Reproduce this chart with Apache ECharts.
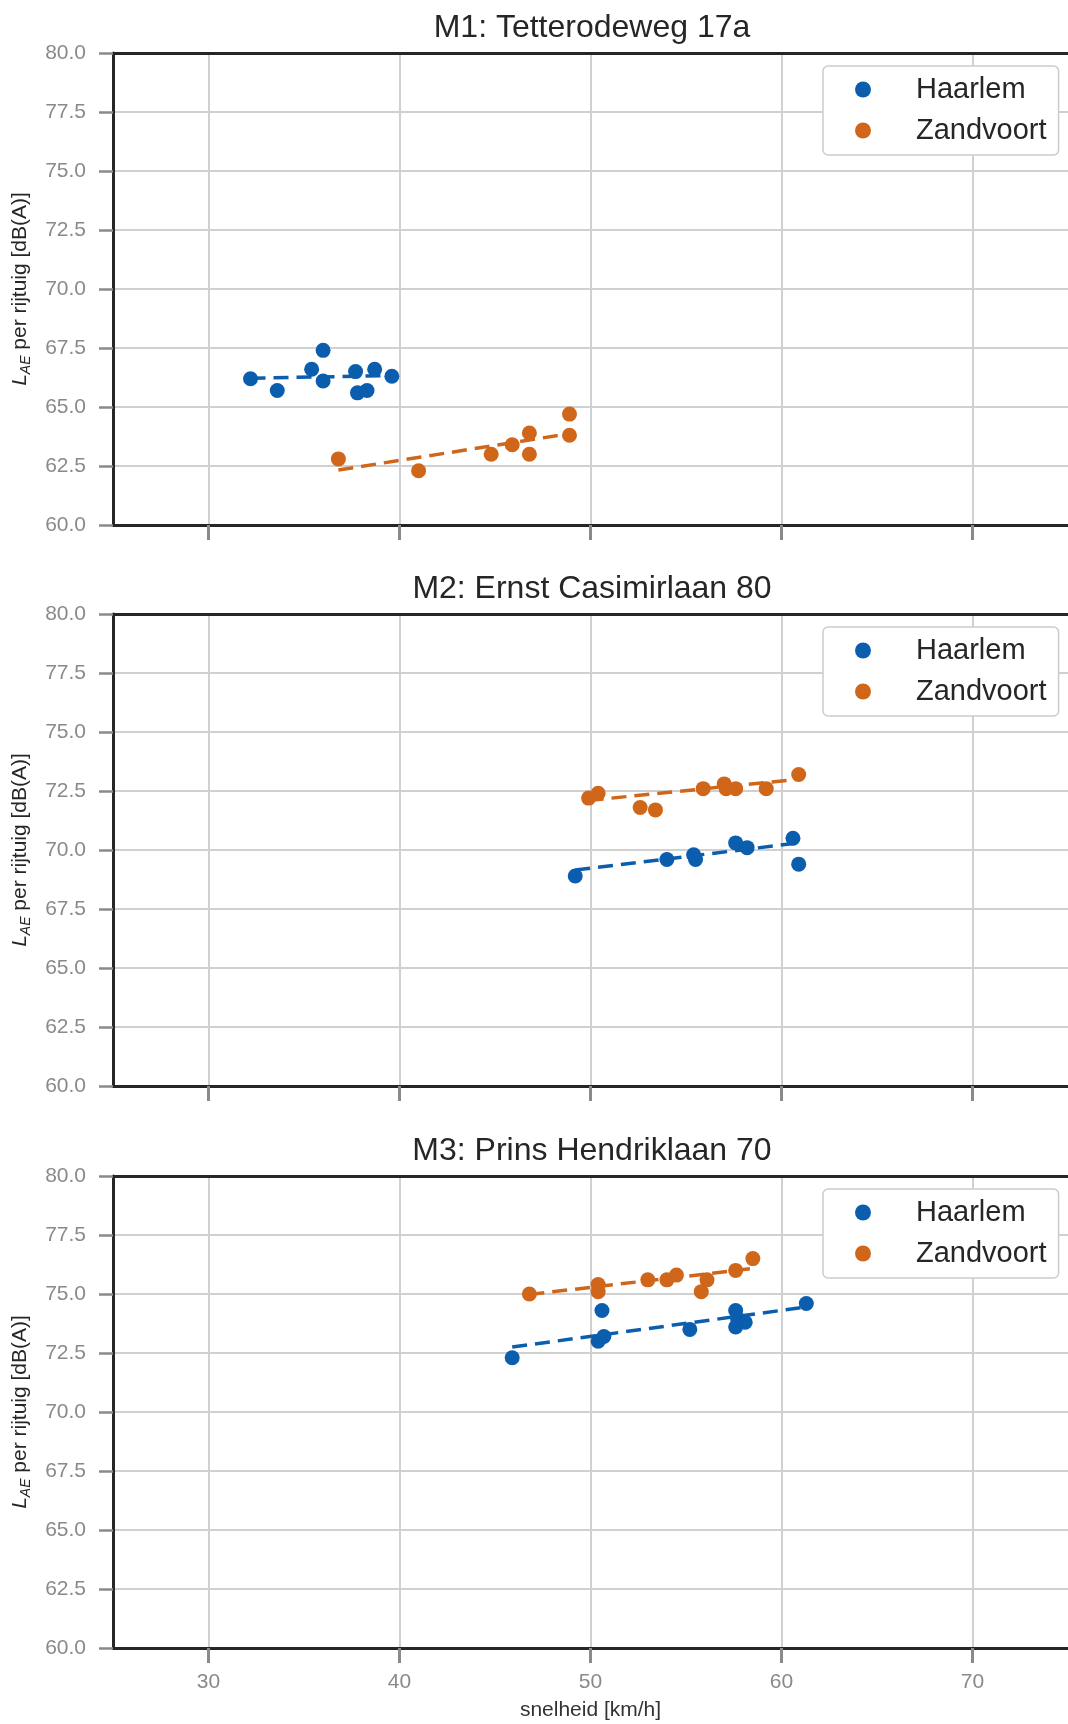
<!DOCTYPE html>
<html>
<head>
<meta charset="utf-8">
<script src="https://cdn.jsdelivr.net/npm/echarts@6/dist/echarts.min.js"></script>
<style>
  html, body { margin: 0; padding: 0; background: #ffffff; }
  #chart { width: 1068px; height: 1724px; }
</style>
</head>
<body>
<div id="chart"></div>
<script>
// Pass-by noise level per vehicle against driving speed, three measuring points.
const panelTitles = ['M1: Tetterodeweg 17a', 'M2: Ernst Casimirlaan 80', 'M3: Prins Hendriklaan 70'];
const seriesNames = ['Haarlem', 'Zandvoort'];
const xTickValues = [30, 40, 50, 60, 70];

// M1
const m1HaarlemSpeed   = [32.2, 33.6, 35.4, 36.0, 36.0, 37.7, 37.8, 38.3, 38.7, 39.6];
const m1HaarlemLevel   = [66.2, 65.7, 66.6, 67.4, 66.1, 66.5, 65.6, 65.7, 66.6, 66.3];
const m1HaarlemTrend   = [[32.2, 66.22], [39.6, 66.33]];
const m1ZandvoortSpeed = [36.8, 41.0, 44.8, 45.9, 46.8, 46.8, 48.9, 48.9];
const m1ZandvoortLevel = [62.8, 62.3, 63.0, 63.4, 63.9, 63.0, 64.7, 63.8];
const m1ZandvoortTrend = [[36.8, 62.33], [48.9, 63.87]];

// M2
const m2HaarlemSpeed   = [49.2, 54.0, 55.4, 55.5, 57.6, 58.2, 60.6, 60.9];
const m2HaarlemLevel   = [68.9, 69.6, 69.8, 69.6, 70.3, 70.1, 70.5, 69.4];
const m2HaarlemTrend   = [[49.2, 69.15], [60.9, 70.3]];
const m2ZandvoortSpeed = [49.9, 50.4, 52.6, 53.4, 55.9, 57.0, 57.1, 57.6, 59.2, 60.9];
const m2ZandvoortLevel = [72.2, 72.4, 71.8, 71.7, 72.6, 72.8, 72.6, 72.6, 72.6, 73.2];
const m2ZandvoortTrend = [[49.9, 72.1], [60.9, 73.0]];

// M3
const m3HaarlemSpeed   = [45.9, 50.6, 50.4, 50.7, 55.2, 57.6, 57.6, 57.7, 58.1, 61.3];
const m3HaarlemLevel   = [72.3, 74.3, 73.0, 73.2, 73.5, 74.3, 73.6, 73.95, 73.8, 74.6];
const m3HaarlemTrend   = [[45.9, 72.75], [61.3, 74.45]];
const m3ZandvoortSpeed = [46.8, 50.4, 50.4, 53.0, 54.0, 54.5, 56.1, 55.8, 57.6, 58.5];
const m3ZandvoortLevel = [75.0, 75.4, 75.1, 75.6, 75.6, 75.8, 75.6, 75.1, 76.0, 76.5];
const m3ZandvoortTrend = [[46.8, 74.98], [58.5, 76.08]];

const panels = [
  { haarlem: [m1HaarlemSpeed, m1HaarlemLevel, m1HaarlemTrend], zandvoort: [m1ZandvoortSpeed, m1ZandvoortLevel, m1ZandvoortTrend] },
  { haarlem: [m2HaarlemSpeed, m2HaarlemLevel, m2HaarlemTrend], zandvoort: [m2ZandvoortSpeed, m2ZandvoortLevel, m2ZandvoortTrend] },
  { haarlem: [m3HaarlemSpeed, m3HaarlemLevel, m3HaarlemTrend], zandvoort: [m3ZandvoortSpeed, m3ZandvoortLevel, m3ZandvoortTrend] }
];

const FONT = '"Liberation Sans", Arial, Helvetica, sans-serif';
const COLORS = { Haarlem: '#0b5dad', Zandvoort: '#d0661a' };
const gridTops = [53, 614, 1176];
const GRID_LEFT = 113;
const GRID_W = 962;
const GRID_H = 472;
const SPINE = '#262626';
const GRID_LINE = '#d0d0d0';
const TICK = '#8a8a8a';

const zip = (xs, ys) => xs.map((x, i) => [x, ys[i]]);

const option = {
  animation: false,
  backgroundColor: '#ffffff',
  title: [], grid: [], xAxis: [], yAxis: [], legend: [], series: []
};

gridTops.forEach((top, p) => {
  const last = p === gridTops.length - 1;

  option.title.push({
    text: panelTitles[p],
    left: GRID_LEFT + 479,
    textAlign: 'center',
    top: top - 41,
    padding: 0,
    textStyle: { fontFamily: FONT, fontSize: 32, fontWeight: 'normal', color: '#262626' }
  });

  option.grid.push({ left: GRID_LEFT, width: GRID_W, top: top, height: GRID_H, containLabel: false });

  // bottom axis (with ticks)
  option.xAxis.push({
    type: 'value', gridIndex: p, position: 'bottom',
    min: 25, max: 75,
    axisLine: { show: true, onZero: false, lineStyle: { color: SPINE, width: 3 } },
    axisTick: { show: true, customValues: xTickValues, length: 15, lineStyle: { color: TICK, width: 3 } },
    axisLabel: {
      show: last, customValues: xTickValues, margin: 24,
      fontFamily: FONT, fontSize: 21, color: TICK
    },
    splitLine: { show: true, lineStyle: { color: GRID_LINE, width: 2 } },
    name: last ? 'snelheid [km/h]' : '',
    nameLocation: 'middle', nameGap: 52,
    nameTextStyle: { fontFamily: FONT, fontSize: 21, color: '#333333' }
  });
  // top spine
  option.xAxis.push({
    type: 'value', gridIndex: p, position: 'top',
    min: 25, max: 75,
    axisLine: { show: true, onZero: false, lineStyle: { color: SPINE, width: 3 } },
    axisTick: { show: false }, axisLabel: { show: false }, splitLine: { show: false }
  });

  option.yAxis.push({
    type: 'value', gridIndex: p,
    min: 60, max: 80, interval: 2.5,
    axisLine: { show: true, onZero: false, lineStyle: { color: SPINE, width: 3 } },
    axisTick: { show: true, length: 14, lineStyle: { color: TICK, width: 2.5 } },
    axisLabel: {
      margin: 27, fontFamily: FONT, fontSize: 21, color: TICK,
      formatter: v => v.toFixed(1)
    },
    splitLine: { show: true, lineStyle: { color: GRID_LINE, width: 2 } },
    name: '{l|L}{s|AE}{t| per rijtuig [dB(A)]}',
    nameLocation: 'middle', nameRotate: 90, nameGap: 80,
    nameTextStyle: {
      fontFamily: FONT, fontSize: 21, color: '#262626',
      rich: {
        l: { fontFamily: FONT, fontSize: 21, fontStyle: 'italic', color: '#262626', lineHeight: 25 },
        s: { fontFamily: FONT, fontSize: 14, fontStyle: 'italic', color: '#262626', verticalAlign: 'bottom', lineHeight: 18 },
        t: { fontFamily: FONT, fontSize: 21, color: '#262626', lineHeight: 25 }
      }
    }
  });

  option.legend.push({
    data: seriesNames,
    orient: 'vertical',
    left: 823, top: top + 13,
    padding: [9, 12, 10, 32],
    itemGap: 12,
    itemWidth: 16, itemHeight: 16,
    icon: 'circle',
    backgroundColor: '#ffffff',
    borderColor: '#cccccc', borderWidth: 1.5, borderRadius: 5,
    selectedMode: false,
    textStyle: { fontFamily: FONT, fontSize: 29, color: '#262626', padding: [0, 0, 0, 40] }
  });

  const groups = [['Haarlem', panels[p].haarlem], ['Zandvoort', panels[p].zandvoort]];
  groups.forEach(([name, [speed, level]]) => {
    option.series.push({
      name: name, type: 'scatter',
      xAxisIndex: p * 2, yAxisIndex: p,
      symbol: 'circle', symbolSize: 15,
      itemStyle: { color: COLORS[name], opacity: 1 },
      data: zip(speed, level), z: 3
    });
  });
  groups.forEach(([name, [, , trend]]) => {
    option.series.push({
      name: name + ' trend', type: 'line',
      xAxisIndex: p * 2, yAxisIndex: p,
      showSymbol: false, symbol: 'none', silent: true,
      lineStyle: { color: COLORS[name], width: 3.5, type: [15, 8] },
      data: trend, z: 4
    });
  });
});

const chart = echarts.init(document.getElementById('chart'), null, { renderer: 'canvas' });
chart.setOption(option);
</script>
</body>
</html>
